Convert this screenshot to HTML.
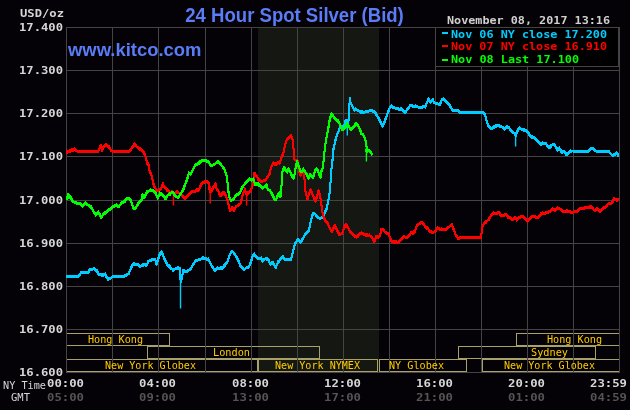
<!DOCTYPE html><html><head><meta charset="utf-8"><title>24 Hour Spot Silver (Bid)</title><style>html,body{margin:0;padding:0;background:#040206;}svg{display:block}</style></head><body>
<svg width="630" height="410" viewBox="0 0 630 410">
<rect x="0" y="0" width="630" height="410" fill="#040206"/>
<rect x="258" y="28" width="121" height="344" fill="#151713"/>
<g clip-path="url(#cc)"><clipPath id="cc"><rect x="66" y="27" width="554" height="346"/></clipPath>
<g fill="none" stroke="#a8a268" stroke-width="1" shape-rendering="crispEdges"><rect x="60.5" y="333.5" width="109" height="12"/><rect x="147.5" y="346.5" width="172" height="12"/><rect x="40.5" y="359.5" width="217" height="12"/><rect x="258.5" y="359.5" width="119" height="12"/><rect x="379.5" y="359.5" width="87" height="12"/><rect x="458.5" y="346.5" width="137" height="12"/><rect x="516.5" y="333.5" width="124" height="12"/><rect x="482.5" y="359.5" width="158" height="12"/></g>
</g>
<g fill="#444444"><rect x="66" y="27" width="1" height="346"/><rect x="112" y="27" width="1" height="346"/><rect x="158" y="27" width="1" height="346"/><rect x="205" y="27" width="1" height="346"/><rect x="251" y="27" width="1" height="346"/><rect x="297" y="27" width="1" height="346"/><rect x="343" y="27" width="1" height="346"/><rect x="389" y="27" width="1" height="346"/><rect x="435" y="27" width="1" height="346"/><rect x="481" y="27" width="1" height="346"/><rect x="527" y="27" width="1" height="346"/><rect x="573" y="27" width="1" height="346"/><rect x="619" y="27" width="1" height="346"/><rect x="66" y="27" width="554" height="1"/><rect x="66" y="70" width="554" height="1"/><rect x="66" y="113" width="554" height="1"/><rect x="66" y="156" width="554" height="1"/><rect x="66" y="200" width="554" height="1"/><rect x="66" y="243" width="554" height="1"/><rect x="66" y="286" width="554" height="1"/><rect x="66" y="329" width="554" height="1"/><rect x="66" y="372" width="554" height="1"/></g>
<g style="font-family:'DejaVu Sans Mono','Liberation Mono',monospace;font-size:11px" fill="#ffcc00"><text x="88" y="343" textLength="55" lengthAdjust="spacingAndGlyphs">Hong Kong</text><text x="213" y="356" textLength="37" lengthAdjust="spacingAndGlyphs">London</text><text x="105" y="369" textLength="91" lengthAdjust="spacingAndGlyphs">New York Globex</text><text x="275" y="369" textLength="85" lengthAdjust="spacingAndGlyphs">New York NYMEX</text><text x="389" y="369" textLength="55" lengthAdjust="spacingAndGlyphs">NY Globex</text><text x="547" y="343" textLength="55" lengthAdjust="spacingAndGlyphs">Hong Kong</text><text x="531" y="356" textLength="37" lengthAdjust="spacingAndGlyphs">Sydney</text><text x="504" y="369" textLength="91" lengthAdjust="spacingAndGlyphs">New York Globex</text></g>
<polyline points="66.4,276.4 67.9,276.4 69.4,276.4 70.9,276.4 72.5,276.4 74.0,276.4 75.5,276.4 77.0,276.4 78.5,275.0 79.3,276.5 80.2,274.9 81.0,271.7 82.8,272.6 84.5,272.4 86.2,273.2 88.0,273.7 89.0,269.6 90.0,267.9 92.2,270.5 94.4,268.5 95.7,270.9 97.0,269.1 97.9,272.7 98.8,275.6 100.4,273.8 102.0,276.5 103.6,276.3 105.2,273.0 106.0,274.4 106.9,277.8 107.7,280.7 110.3,278.1 111.5,276.4 112.8,276.1 115.3,276.7 117.0,276.6 118.7,276.5 120.4,276.4 122.1,276.2 123.8,276.1 125.5,274.2 127.1,273.7 128.7,273.3 129.3,272.0 130.0,269.5 130.6,268.0 131.4,266.3 132.2,265.6 133.0,263.4 134.7,262.5 136.3,265.7 138.0,264.8 140.0,267.2 141.3,264.6 142.5,266.8 143.8,265.5 145.1,263.6 146.3,265.4 147.0,265.4 147.6,263.9 148.3,263.3 150.2,260.0 151.9,261.1 153.5,260.1 155.2,258.3 155.6,261.0 156.1,263.9 156.5,265.4 157.2,262.2 157.8,260.6 158.3,257.0 158.8,256.3 159.3,256.9 159.8,253.9 160.3,251.5 161.6,252.2 162.2,254.3 162.9,255.7 163.5,256.0 164.1,257.8 164.8,259.5 165.4,262.1 166.4,263.0 167.3,264.4 168.4,265.8 169.4,265.1 170.5,266.3 171.8,269.7 173.0,271.6 174.7,269.6 176.4,268.2 178.1,266.7 180.0,268.6 180.1,272.1 180.2,273.0 180.2,273.8 180.3,276.7 180.4,276.0 180.4,278.7 180.5,282.0 180.6,282.3 181.5,279.8 181.8,277.5 182.1,277.0 182.3,277.0 182.6,271.8 182.9,273.2 183.2,271.7 185.1,272.6 187.0,272.6 188.3,271.8 189.5,269.7 190.8,268.8 191.6,266.8 192.5,263.9 193.3,265.5 194.2,263.1 195.0,260.4 195.9,260.3 197.8,259.9 199.7,259.2 201.3,258.2 202.9,257.9 204.3,258.7 205.8,259.2 207.2,259.1 208.6,257.9 209.4,260.4 210.3,261.9 211.1,265.1 212.1,267.6 213.0,268.8 213.9,270.2 214.9,271.7 216.2,268.3 217.5,269.3 219.4,268.7 221.2,266.5 223.1,266.3 224.1,264.7 225.0,265.9 226.2,262.3 227.5,260.2 228.0,260.7 228.5,258.1 229.1,255.5 229.6,254.3 230.1,254.2 231.1,251.3 232.0,250.1 233.9,253.7 234.7,254.0 235.6,254.8 236.4,256.6 237.4,256.8 238.3,260.1 238.9,261.9 239.6,262.7 240.2,264.1 242.1,269.0 243.1,268.8 244.0,268.9 245.9,268.5 247.5,268.7 249.1,265.0 249.7,263.3 250.4,262.1 251.0,262.5 251.5,258.8 251.9,259.3 252.4,257.7 252.9,255.6 254.2,253.0 255.2,257.2 256.1,257.8 257.4,257.7 258.6,257.5 261.2,258.5 261.8,259.1 262.4,261.4 264.0,259.2 265.6,259.1 267.2,257.9 268.8,259.7 269.5,263.9 270.1,265.1 272.6,261.7 273.4,265.0 274.2,264.2 275.0,267.9 275.8,268.4 276.4,265.6 277.0,263.4 278.0,260.8 279.0,262.5 280.3,257.9 281.5,259.4 282.8,258.5 283.8,258.5 284.7,258.6 287.2,260.6 289.1,261.0 291.0,260.0 291.5,257.5 291.9,255.2 292.4,253.4 292.9,251.1 293.3,251.2 293.7,248.7 294.0,246.1 294.4,244.1 294.8,244.6 295.8,241.7 296.9,240.9 297.9,238.6 299.4,242.2 300.8,243.7 301.8,238.7 302.7,237.8 303.7,236.6 304.5,237.6 305.3,235.3 306.5,232.4 307.8,230.6 309.0,231.2 309.3,230.2 309.6,229.0 309.9,225.2 310.3,225.7 310.6,223.4 310.9,221.0 311.2,221.3 311.7,216.8 312.1,217.0 312.6,212.8 314.8,212.4 315.9,216.7 317.0,215.5 318.5,218.7 320.0,219.2 322.2,218.6 323.3,215.0 324.4,213.1 325.1,211.2 325.9,211.7 326.6,209.0 327.0,208.7 327.3,206.9 327.6,202.4 328.0,202.4 328.4,199.1 328.7,197.2 328.9,195.7 329.2,197.0 329.4,195.0 329.7,193.4 329.9,189.9 330.2,189.2 330.3,188.3 330.3,185.3 330.4,184.5 330.5,181.6 330.6,179.6 330.6,178.7 330.7,179.6 330.8,176.8 330.9,176.7 330.9,173.4 331.0,171.2 331.2,171.4 331.4,169.8 331.7,165.0 331.9,165.8 332.1,161.9 332.3,160.3 332.5,161.6 332.7,156.7 332.9,155.7 333.0,156.9 333.1,153.0 333.2,150.2 333.3,148.7 333.6,147.5 334.0,147.9 334.3,143.9 334.6,145.4 335.0,141.9 335.3,142.6 335.8,140.8 336.2,136.8 336.7,135.1 337.2,134.3 337.9,131.3 338.5,131.8 339.1,127.9 339.8,126.2 342.3,128.6 344.2,125.4 344.6,124.7 345.1,122.2 345.5,119.8 346.8,120.0 347.4,125.6 347.8,124.2 348.3,122.6 348.7,117.7 348.8,116.4 348.9,116.2 349.0,115.9 349.1,112.6 349.2,111.4 349.3,109.6 349.4,106.6 349.4,106.1 349.5,103.7 349.5,101.9 349.6,99.8 349.6,99.0 349.7,100.1 350.1,100.3 350.6,103.3 351.6,105.1 352.5,108.2 353.4,108.0 354.4,109.6 355.7,108.3 357.6,109.6 360.1,112.9 362.0,113.4 363.9,111.5 365.8,111.3 367.7,111.8 370.3,110.6 372.8,111.4 374.1,111.0 375.3,111.1 376.2,113.4 377.0,114.2 377.9,117.5 378.7,117.1 379.6,118.6 380.4,122.2 381.0,122.4 381.7,125.8 382.3,126.2 383.2,126.0 384.2,121.7 384.7,121.5 385.2,121.1 385.8,116.8 386.3,118.6 386.8,114.2 387.4,114.8 388.1,114.0 388.7,111.8 389.3,108.3 390.2,106.0 391.2,106.0 392.8,108.4 394.4,107.0 396.3,109.9 398.2,107.6 399.7,110.6 401.2,107.2 403.1,110.2 405.0,114.0 406.2,111.9 407.5,110.5 408.6,109.0 409.6,107.3 410.7,105.8 412.3,104.8 413.9,106.7 415.8,104.5 417.7,107.6 419.6,108.3 421.5,106.3 423.4,105.2 425.3,108.2 425.9,106.1 426.6,103.7 427.2,102.2 427.9,101.7 428.5,98.6 429.4,100.0 430.4,101.4 431.6,100.1 432.9,98.3 434.2,103.2 435.8,102.9 437.4,104.2 439.9,102.8 440.5,102.5 441.2,100.2 441.8,98.7 443.1,97.9 445.0,101.3 445.9,101.0 446.9,102.2 448.8,104.3 449.6,104.4 450.5,105.0 451.3,108.4 452.6,110.2 454.3,110.8 456.0,110.0 457.7,110.9 459.6,112.4 461.2,112.4 462.8,112.4 464.3,112.4 465.9,112.4 467.5,112.4 469.1,112.4 470.7,112.4 472.2,112.3 473.8,112.3 475.4,112.3 477.0,112.3 478.6,112.3 480.1,112.3 481.7,112.3 483.3,113.2 484.2,112.8 485.2,115.2 485.6,116.8 486.0,117.6 486.4,120.0 487.0,122.2 487.7,125.2 488.3,127.0 489.6,126.1 490.9,129.2 493.4,126.2 495.3,124.8 497.9,125.4 499.8,127.5 501.7,125.4 503.2,129.0 504.8,130.7 505.8,127.2 506.7,127.4 508.7,128.6 509.6,128.4 510.6,131.3 511.9,132.3 513.1,132.8 515.0,135.1 515.6,137.5 516.3,136.0 516.9,132.9 517.6,129.7 518.2,128.3 519.4,126.8 520.7,129.1 522.0,130.8 524.2,128.4 526.4,131.2 527.3,132.6 528.3,132.4 529.2,134.3 530.0,134.3 530.9,137.7 532.8,135.7 534.7,139.9 536.0,140.5 537.2,141.1 538.5,140.8 539.7,144.3 541.0,145.5 542.6,142.1 544.2,144.2 546.1,145.1 547.0,145.7 547.8,147.1 548.7,147.4 550.0,148.3 551.2,147.5 553.2,143.6 554.5,146.5 555.7,146.3 556.7,147.2 557.6,149.7 559.5,147.1 560.4,151.3 561.2,152.8 562.1,150.9 564.0,151.4 564.8,151.9 565.7,152.1 566.5,154.0 567.8,152.6 569.0,153.2 570.6,149.8 572.2,151.0 573.8,151.0 575.4,151.1 577.0,151.1 578.6,151.2 580.2,151.2 581.7,151.2 583.3,151.3 584.9,151.3 586.5,151.4 588.1,150.2 589.4,150.0 590.6,147.3 593.2,148.7 594.5,150.0 595.7,151.0 597.3,151.0 598.9,151.1 600.5,151.1 602.0,151.2 603.6,151.2 605.2,151.2 606.8,151.3 608.4,152.6 609.7,151.5 610.9,153.1 612.2,155.4 614.8,153.9 616.7,153.2 617.7,153.6 618.6,156.1" fill="none" stroke="#00ccff" stroke-width="1.2" stroke-linejoin="round" shape-rendering="crispEdges"/>
<polyline points="66.4,275.9 78.5,275.9 81.0,272.1 88.0,272.1 90.0,269.2 94.4,268.3 97.0,270.5 98.8,274.3 105.2,274.3 107.7,278.5 110.3,278.1 112.8,275.9 115.3,276.2 125.5,275.5 128.7,273.0 130.6,268.5 133.0,263.7 138.0,264.1 140.0,266.2 143.8,263.6 146.3,265.5 148.3,261.1 150.2,259.8 155.2,258.5 156.5,263.6 157.8,259.8 160.3,252.2 161.6,251.5 163.5,256.0 165.4,260.5 167.3,264.3 170.5,267.5 173.0,269.3 178.1,267.5 180.0,268.1 180.6,281.5 181.5,279.5 183.2,270.0 187.0,271.2 190.8,268.1 193.3,263.6 195.9,259.8 199.7,259.2 202.9,257.3 208.6,259.2 211.1,264.3 214.9,270.0 217.5,267.5 223.1,267.6 225.0,264.4 227.5,261.2 230.1,253.6 232.0,250.5 233.9,252.4 236.4,256.2 238.3,260.0 240.2,265.1 242.1,267.0 244.0,269.5 245.9,267.6 249.1,266.3 251.0,261.2 252.9,254.9 254.2,253.6 256.1,256.2 258.6,258.1 261.2,257.4 262.4,260.6 265.6,258.1 268.8,260.0 270.1,263.2 272.6,261.9 275.8,267.0 277.0,263.8 279.0,260.6 282.8,256.2 284.7,259.3 287.2,258.7 291.0,258.7 292.9,251.7 294.8,243.5 297.9,238.8 300.8,241.7 303.7,236.8 305.3,233.7 309.0,230.0 311.2,219.0 312.6,213.9 314.8,213.2 317.0,216.1 320.0,218.3 322.2,216.8 324.4,213.2 326.6,208.1 328.7,198.5 330.2,188.3 331.0,171.5 331.9,164.7 332.9,156.2 333.3,149.5 335.3,140.3 337.2,133.9 339.8,127.6 342.3,126.3 344.2,125.7 345.5,120.0 346.8,121.2 347.4,123.5 348.7,118.7 349.3,108.5 349.7,97.8 350.6,102.2 352.5,106.0 354.4,109.8 355.7,108.5 357.6,109.8 360.1,111.1 363.9,111.7 367.7,111.1 370.3,109.8 372.8,110.5 375.3,112.4 377.9,116.8 380.4,121.2 382.3,125.7 384.2,122.5 386.8,114.9 389.3,108.5 391.2,105.4 394.4,107.3 398.2,108.5 401.2,108.5 403.1,110.4 405.0,112.0 407.5,108.5 410.7,104.6 413.9,106.5 415.8,105.3 419.6,107.2 425.3,105.9 427.2,101.5 428.5,98.3 430.4,101.5 432.9,99.6 434.2,102.1 437.4,103.4 439.9,104.0 441.8,99.6 443.1,98.3 445.0,99.6 446.9,102.1 448.8,103.4 451.3,107.8 452.6,109.7 457.7,109.7 459.6,111.9 483.3,111.8 485.2,114.7 486.4,119.8 488.3,124.9 490.9,128.1 493.4,127.4 495.3,125.9 497.9,124.9 501.7,126.2 504.8,128.7 506.7,126.2 508.7,126.8 510.6,130.0 513.1,131.9 515.0,133.2 515.6,135.5 516.3,133.8 518.2,128.7 519.4,127.4 522.0,129.3 526.4,130.0 528.3,132.5 530.9,136.3 534.7,137.6 537.2,140.1 541.0,143.3 544.2,142.7 546.1,143.3 548.7,147.1 551.2,145.2 553.2,143.5 555.7,146.1 557.6,149.9 559.5,148.0 562.1,151.8 564.0,150.5 566.5,154.3 569.0,151.8 572.2,150.5 588.1,150.9 590.6,148.6 593.2,147.7 595.7,150.5 608.4,150.8 612.2,154.7 614.8,154.3 616.7,152.4 618.6,155.6" fill="none" stroke="#00ccff" stroke-width="2.0" stroke-linejoin="round" stroke-linecap="butt" shape-rendering="crispEdges"/><polyline points="66.4,276.9 78.5,276.9 81.0,273.1 88.0,273.1 90.0,270.2 94.4,269.3 97.0,271.5 98.8,275.3 105.2,275.3 107.7,279.5 110.3,279.1 112.8,276.9 115.3,277.2 125.5,276.5 128.7,274.0 130.6,269.5 133.0,264.7 138.0,265.1 140.0,267.2 143.8,264.6 146.3,266.5 148.3,262.1 150.2,260.8 155.2,259.5 156.5,264.6 157.8,260.8 160.3,253.2 161.6,252.5 163.5,257.0 165.4,261.5 167.3,265.3 170.5,268.5 173.0,270.3 178.1,268.5 180.0,269.1 180.6,282.5 181.5,280.5 183.2,271.0 187.0,272.2 190.8,269.1 193.3,264.6 195.9,260.8 199.7,260.2 202.9,258.3 208.6,260.2 211.1,265.3 214.9,271.0 217.5,268.5 223.1,268.6 225.0,265.4 227.5,262.2 230.1,254.6 232.0,251.5 233.9,253.4 236.4,257.2 238.3,261.0 240.2,266.1 242.1,268.0 244.0,270.5 245.9,268.6 249.1,267.3 251.0,262.2 252.9,255.9 254.2,254.6 256.1,257.2 258.6,259.1 261.2,258.4 262.4,261.6 265.6,259.1 268.8,261.0 270.1,264.2 272.6,262.9 275.8,268.0 277.0,264.8 279.0,261.6 282.8,257.2 284.7,260.3 287.2,259.7 291.0,259.7 292.9,252.7 294.8,244.5 297.9,239.8 300.8,242.7 303.7,237.8 305.3,234.7 309.0,231.0 311.2,220.0 312.6,214.9 314.8,214.2 317.0,217.1 320.0,219.3 322.2,217.8 324.4,214.2 326.6,209.1 328.7,199.5 330.2,189.3 331.0,172.5 331.9,165.7 332.9,157.2 333.3,150.5 335.3,141.3 337.2,134.9 339.8,128.6 342.3,127.3 344.2,126.7 345.5,121.0 346.8,122.2 347.4,124.5 348.7,119.7 349.3,109.5 349.7,98.8 350.6,103.2 352.5,107.0 354.4,110.8 355.7,109.5 357.6,110.8 360.1,112.1 363.9,112.7 367.7,112.1 370.3,110.8 372.8,111.5 375.3,113.4 377.9,117.8 380.4,122.2 382.3,126.7 384.2,123.5 386.8,115.9 389.3,109.5 391.2,106.4 394.4,108.3 398.2,109.5 401.2,109.5 403.1,111.4 405.0,113.0 407.5,109.5 410.7,105.6 413.9,107.5 415.8,106.3 419.6,108.2 425.3,106.9 427.2,102.5 428.5,99.3 430.4,102.5 432.9,100.6 434.2,103.1 437.4,104.4 439.9,105.0 441.8,100.6 443.1,99.3 445.0,100.6 446.9,103.1 448.8,104.4 451.3,108.8 452.6,110.7 457.7,110.7 459.6,112.9 483.3,112.8 485.2,115.7 486.4,120.8 488.3,125.9 490.9,129.1 493.4,128.4 495.3,126.9 497.9,125.9 501.7,127.2 504.8,129.7 506.7,127.2 508.7,127.8 510.6,131.0 513.1,132.9 515.0,134.2 515.6,136.5 516.3,134.8 518.2,129.7 519.4,128.4 522.0,130.3 526.4,131.0 528.3,133.5 530.9,137.3 534.7,138.6 537.2,141.1 541.0,144.3 544.2,143.7 546.1,144.3 548.7,148.1 551.2,146.2 553.2,144.5 555.7,147.1 557.6,150.9 559.5,149.0 562.1,152.8 564.0,151.5 566.5,155.3 569.0,152.8 572.2,151.5 588.1,151.9 590.6,149.6 593.2,148.7 595.7,151.5 608.4,151.8 612.2,155.7 614.8,155.3 616.7,153.4 618.6,156.6" fill="none" stroke="#00ccff" stroke-width="2.0" stroke-linejoin="round" stroke-linecap="butt" shape-rendering="crispEdges"/>
<rect x="179.8" y="280.0" width="1.4" height="28.5" fill="#00ccff"/><rect x="514.9" y="134.0" width="1.4" height="12.5" fill="#00ccff"/><rect x="346.6" y="122.0" width="1.4" height="13.5" fill="#00ccff"/>
<polyline points="66.4,153.2 67.9,153.1 69.4,149.6 70.9,149.6 71.9,150.3 73.2,151.8 74.7,149.6 76.6,150.2 77.9,151.5 79.5,151.5 81.0,151.5 82.6,151.5 84.1,151.5 85.7,151.5 87.3,151.5 88.8,151.5 90.4,151.5 92.0,151.5 93.5,151.5 95.1,151.5 96.6,151.5 98.2,151.9 98.8,150.3 99.5,148.6 100.1,145.4 100.7,144.8 101.1,146.2 101.6,148.9 102.0,151.5 103.0,149.7 103.9,146.6 105.8,144.1 107.7,144.9 108.7,145.3 109.6,146.5 110.5,149.5 111.5,150.2 112.8,151.5 114.4,151.5 116.0,151.5 117.6,151.5 119.2,151.5 120.8,151.5 122.3,151.5 123.9,151.5 125.5,151.5 127.1,151.5 128.7,151.0 129.9,151.7 131.2,149.1 132.1,147.9 133.1,145.4 134.1,143.3 135.0,143.2 135.9,144.1 136.9,147.0 139.5,150.2 140.8,150.3 142.0,149.7 143.2,152.8 144.1,154.3 145.1,156.0 145.5,158.2 145.9,159.1 146.2,160.8 146.6,160.6 147.0,164.5 148.3,165.8 148.6,164.3 148.9,168.1 149.2,169.5 149.5,170.2 150.1,172.1 150.8,173.7 151.4,177.0 151.8,177.1 152.3,180.1 152.7,179.9 153.1,183.9 153.6,185.8 154.0,186.1 154.8,187.7 155.7,190.3 156.5,190.9 158.1,190.1 159.7,189.3 160.6,188.3 161.6,188.3 162.2,184.3 162.9,185.3 163.5,184.4 164.1,188.4 166.0,187.4 166.9,191.1 167.9,191.4 169.2,191.9 170.5,193.3 172.4,191.9 173.7,194.3 174.9,192.5 176.8,190.2 178.1,192.5 180.6,195.4 181.9,195.9 183.2,195.4 185.1,199.5 186.3,197.9 187.6,197.2 188.9,193.3 190.2,194.1 192.1,190.2 194.6,192.5 196.5,189.1 199.0,189.0 199.7,189.7 200.3,185.1 201.0,185.0 202.2,185.0 203.5,181.4 205.1,180.6 206.7,182.5 208.6,182.7 208.8,185.3 209.0,184.2 209.2,187.0 209.5,187.8 209.7,191.2 209.9,190.4 211.7,192.3 212.7,186.9 213.7,187.7 214.6,183.4 215.6,182.8 215.8,186.5 216.1,185.5 216.3,187.2 218.2,191.0 218.7,191.3 219.1,191.4 219.6,196.4 220.1,194.7 222.0,192.3 223.9,191.6 224.9,194.2 225.8,196.3 226.4,195.6 227.1,198.2 227.7,198.7 228.0,201.9 228.3,204.7 228.7,206.1 229.0,208.3 229.6,209.7 230.2,212.0 231.1,209.8 232.1,207.4 233.1,208.0 234.0,211.2 235.0,208.0 236.0,205.3 237.2,205.7 238.5,206.3 240.4,202.3 240.8,202.5 241.3,200.3 241.7,199.3 242.1,196.3 242.4,197.8 242.8,193.6 243.2,193.3 244.0,191.0 244.8,187.9 245.3,191.4 245.8,191.2 246.3,192.3 246.7,193.6 248.0,191.6 250.6,190.1 251.1,190.5 251.6,188.4 252.0,188.6 252.5,186.8 252.7,185.6 253.0,181.1 253.2,180.4 253.5,178.2 253.7,177.9 254.1,175.9 254.4,174.3 255.6,175.5 256.9,175.4 257.5,177.5 258.2,179.4 258.8,178.9 260.4,179.3 262.0,181.1 263.6,179.3 265.2,181.1 266.4,177.6 267.7,175.5 268.6,174.2 269.6,172.8 270.0,170.9 270.5,170.1 270.9,168.1 271.5,166.1 272.1,165.9 272.8,162.8 273.4,164.0 274.7,165.2 276.0,165.3 277.9,162.2 279.8,163.1 280.3,161.8 280.8,158.2 281.2,158.0 281.7,156.8 282.3,154.0 283.0,152.2 283.6,153.5 283.9,150.2 284.2,149.2 284.5,149.2 284.8,146.4 285.3,143.8 285.8,144.9 286.2,141.2 286.7,138.4 287.7,139.7 288.7,136.2 289.8,135.7 290.9,136.5 291.7,137.8 292.5,137.2 292.7,140.4 292.8,141.9 293.0,143.8 293.2,144.4 293.4,147.5 293.5,147.2 293.7,149.6 293.8,151.4 294.0,155.1 294.1,153.3 294.2,157.4 294.4,156.8 294.5,159.8 296.2,160.6 297.6,160.4 297.8,163.0 298.0,163.1 298.2,163.6 298.4,165.1 298.6,166.5 299.1,171.6 299.5,172.9 300.5,176.9 301.9,173.6 303.3,170.6 304.3,175.4 304.4,177.5 304.5,178.9 304.5,179.7 304.6,180.8 304.7,182.8 304.8,185.7 304.8,185.4 304.9,188.0 305.0,189.4 305.4,192.8 305.8,193.8 306.2,195.9 306.7,197.1 307.1,196.6 307.5,198.0 308.0,197.4 308.5,194.9 308.9,194.0 309.4,193.3 309.9,192.7 310.4,189.8 311.1,192.4 311.9,191.4 312.6,194.1 313.4,198.1 314.1,196.6 314.9,199.2 315.6,199.6 316.0,198.2 316.4,199.8 316.8,198.7 317.3,195.9 317.7,192.5 318.1,191.7 318.5,190.0 319.2,193.4 320.0,195.3 320.2,196.1 320.5,198.1 320.7,198.3 320.9,201.6 321.2,204.9 321.4,205.9 321.6,205.1 321.9,208.4 322.1,210.8 322.4,210.8 322.6,214.9 322.9,215.0 323.6,217.6 324.4,218.2 325.1,222.2 326.2,222.5 327.3,222.8 328.0,222.9 328.8,225.7 329.5,225.8 330.2,229.4 331.0,232.0 331.7,230.8 332.4,230.4 333.1,228.6 333.9,226.7 334.6,226.2 335.3,228.5 336.1,229.1 336.8,229.7 337.7,233.2 338.5,232.5 339.4,235.7 342.0,234.2 342.6,232.9 343.3,231.5 343.9,227.5 344.5,227.5 345.2,225.1 345.8,224.6 346.8,227.4 347.7,227.7 348.5,226.8 349.4,230.1 350.2,232.5 351.8,234.7 353.4,235.4 355.0,237.3 356.6,235.6 357.9,237.5 359.1,235.1 361.7,233.3 364.2,235.7 366.7,236.3 369.3,234.0 370.6,237.6 371.8,238.4 372.7,237.7 373.5,241.3 374.4,242.1 374.9,239.2 375.4,240.1 375.8,236.1 376.3,236.5 378.2,237.2 380.1,234.6 380.4,234.2 380.7,232.2 381.0,229.6 381.3,230.9 383.3,228.2 384.2,229.2 385.2,232.2 386.8,234.2 388.3,234.2 388.9,236.0 389.6,236.5 390.2,238.7 390.9,239.0 391.5,240.3 393.1,241.9 394.7,240.7 396.6,240.9 398.5,243.5 399.4,240.0 400.4,240.9 401.5,239.9 402.5,237.4 403.6,237.4 405.1,238.1 406.7,238.8 408.7,234.7 409.5,233.6 410.4,233.1 411.2,232.2 413.2,232.8 414.1,230.4 415.1,231.2 415.6,231.3 416.1,227.6 416.5,226.9 417.0,224.9 418.9,223.8 420.1,224.5 421.4,221.4 423.3,224.6 424.2,225.2 425.2,226.7 427.1,229.5 428.4,227.8 429.7,232.2 432.2,231.6 433.8,232.6 435.4,232.8 436.4,230.4 437.3,227.5 439.8,230.4 441.4,227.6 443.0,229.6 444.6,228.7 446.2,229.2 447.8,229.2 449.4,227.7 450.6,226.1 451.9,224.0 452.5,225.4 453.2,227.9 453.8,228.8 454.4,230.6 455.1,234.9 455.7,233.3 456.6,237.3 457.4,236.9 458.3,238.2 460.8,237.4 462.4,237.4 463.9,237.4 465.5,237.4 467.0,237.4 468.6,237.4 470.2,237.4 471.7,237.4 473.3,237.4 474.9,237.4 476.4,237.4 478.0,237.4 479.5,237.4 481.1,236.7 481.3,234.3 481.5,234.2 481.7,231.5 481.8,231.0 482.0,228.9 482.2,229.6 482.4,228.2 483.4,224.5 484.3,223.3 486.2,223.1 487.4,219.9 488.7,218.1 489.7,216.8 490.7,214.8 492.0,215.1 493.3,212.4 495.2,212.7 497.1,214.6 499.0,211.2 499.9,215.0 500.9,215.9 503.4,215.6 505.3,215.3 506.6,214.8 507.9,218.1 509.8,218.9 511.0,218.6 512.3,220.5 513.5,220.3 514.8,218.2 515.8,219.5 516.7,221.2 518.0,220.2 519.3,218.3 521.8,217.8 523.7,215.9 524.7,218.4 525.6,219.8 527.5,220.6 528.5,219.5 529.4,217.4 530.7,219.4 532.0,216.1 533.6,216.6 535.2,218.2 537.1,216.7 538.4,218.7 539.6,214.6 540.9,212.7 542.1,212.3 544.7,213.0 546.6,213.8 548.2,213.4 549.8,212.6 551.1,209.9 552.5,208.8 553.8,208.5 555.1,211.8 556.4,208.8 557.6,207.1 560.2,209.7 561.5,208.8 562.7,210.4 564.6,212.7 566.5,209.6 568.1,210.0 569.7,210.6 572.2,212.1 574.8,211.4 577.3,210.2 578.5,209.3 579.8,207.6 581.4,207.6 583.0,209.0 584.6,207.3 586.2,206.8 588.1,208.3 590.0,205.6 591.9,205.9 593.1,210.2 594.4,210.2 595.7,210.8 597.0,207.6 598.6,210.3 600.2,212.8 601.5,209.4 602.7,209.6 604.3,208.1 605.9,206.3 607.1,207.0 608.4,203.1 610.3,203.1 612.2,203.4 612.8,200.7 613.5,201.2 614.1,198.8 616.0,200.0 617.3,201.1 618.6,199.0" fill="none" stroke="#ff0000" stroke-width="1.2" stroke-linejoin="round" shape-rendering="crispEdges"/>
<polyline points="66.4,151.0 70.9,150.7 71.9,148.5 73.2,150.4 74.7,148.5 76.6,150.4 77.9,151.0 98.2,151.0 99.5,147.8 100.7,144.6 102.0,149.1 103.9,145.9 105.8,143.8 107.7,145.3 109.6,147.8 111.5,150.4 112.8,151.0 128.7,151.0 131.2,148.5 133.1,145.9 135.0,143.4 136.9,146.5 139.5,147.8 142.0,150.4 143.2,150.8 145.1,154.6 147.0,162.2 148.3,163.5 149.5,169.8 151.4,174.9 152.7,180.0 154.0,185.7 156.5,189.5 159.7,189.9 161.6,187.0 162.9,183.2 164.1,186.3 166.0,187.6 167.9,190.1 170.5,192.7 172.4,190.8 173.7,193.5 174.9,192.7 176.8,190.8 178.1,192.0 180.6,193.3 183.2,196.5 185.1,197.8 187.6,195.2 190.2,192.7 192.1,191.4 194.6,191.4 196.5,189.5 199.0,189.5 201.0,184.4 203.5,181.9 206.7,180.6 208.6,182.5 209.9,191.5 211.7,190.1 213.7,186.3 215.6,183.2 216.3,187.9 218.2,189.8 220.1,195.5 222.0,193.6 223.9,191.7 225.8,194.9 227.7,200.0 229.0,206.3 230.2,210.1 232.1,207.0 234.0,210.1 236.0,206.3 238.5,204.4 240.4,203.2 241.7,198.7 243.2,192.4 244.8,189.2 246.3,193.5 246.7,194.9 248.0,192.4 250.6,191.1 252.5,184.7 253.7,177.1 254.4,172.7 256.9,175.8 258.8,180.3 262.0,180.9 265.2,179.7 267.7,176.5 269.6,173.3 270.9,167.7 273.4,162.0 276.0,163.9 277.9,162.0 279.8,162.6 281.7,156.2 283.6,151.8 284.8,145.5 286.7,139.7 288.7,137.2 290.9,134.7 292.5,138.5 293.7,149.9 294.5,159.0 296.2,160.5 297.6,160.0 298.6,167.6 299.5,171.9 300.5,174.7 301.9,172.4 303.3,171.9 304.3,174.3 305.0,189.0 307.5,198.5 310.4,189.0 312.6,194.1 315.6,200.7 318.5,190.5 320.0,194.1 321.4,204.4 322.9,214.6 325.1,219.8 327.3,222.0 329.5,227.1 331.7,231.5 334.6,224.9 336.8,229.3 339.4,234.3 342.0,233.1 343.9,228.0 345.8,223.5 347.7,226.7 350.2,231.2 353.4,234.3 356.6,236.9 359.1,233.7 361.7,232.4 364.2,233.7 366.7,234.3 369.3,235.0 371.8,236.9 374.4,241.3 376.3,235.6 378.2,236.9 380.1,235.0 381.3,228.6 383.3,229.3 385.2,231.8 388.3,233.1 390.2,237.5 391.5,240.7 394.7,242.0 398.5,242.0 400.4,239.4 403.6,236.2 406.7,236.9 408.7,235.6 411.2,231.8 413.2,233.1 415.1,230.5 417.0,224.8 418.9,223.5 421.4,221.6 423.3,223.5 425.2,226.1 427.1,227.4 429.7,230.5 432.2,231.8 435.4,231.2 437.3,227.4 439.8,228.6 446.2,228.6 449.4,226.1 451.9,224.2 453.8,229.3 455.7,234.3 458.3,238.2 460.8,236.9 481.1,236.9 482.4,226.1 484.3,222.3 486.2,221.0 488.7,219.1 490.7,215.5 493.3,212.4 497.1,213.0 499.0,211.7 500.9,214.9 503.4,215.5 505.3,213.6 507.9,216.2 509.8,216.8 512.3,219.3 514.8,216.8 516.7,219.3 519.3,216.8 521.8,215.5 523.7,216.2 525.6,218.7 527.5,220.6 529.4,218.1 532.0,216.2 535.2,216.2 537.1,217.4 539.6,215.5 542.1,212.4 544.7,213.0 546.6,211.7 549.8,211.1 552.5,208.1 555.1,210.0 557.6,207.4 560.2,208.7 562.7,210.6 566.5,210.6 569.7,211.2 572.2,212.5 574.8,211.2 577.3,210.6 579.8,208.1 583.0,208.1 586.2,206.8 591.9,206.8 594.4,210.0 597.0,208.5 600.2,211.0 602.7,208.1 605.9,206.2 608.4,203.0 612.2,202.4 614.1,197.9 616.0,199.2 617.3,200.5 618.6,198.5" fill="none" stroke="#ff0000" stroke-width="2.0" stroke-linejoin="round" stroke-linecap="butt" shape-rendering="crispEdges"/><polyline points="66.4,152.0 70.9,151.7 71.9,149.5 73.2,151.4 74.7,149.5 76.6,151.4 77.9,152.0 98.2,152.0 99.5,148.8 100.7,145.6 102.0,150.1 103.9,146.9 105.8,144.8 107.7,146.3 109.6,148.8 111.5,151.4 112.8,152.0 128.7,152.0 131.2,149.5 133.1,146.9 135.0,144.4 136.9,147.5 139.5,148.8 142.0,151.4 143.2,151.8 145.1,155.6 147.0,163.2 148.3,164.5 149.5,170.8 151.4,175.9 152.7,181.0 154.0,186.7 156.5,190.5 159.7,190.9 161.6,188.0 162.9,184.2 164.1,187.3 166.0,188.6 167.9,191.1 170.5,193.7 172.4,191.8 173.7,194.5 174.9,193.7 176.8,191.8 178.1,193.0 180.6,194.3 183.2,197.5 185.1,198.8 187.6,196.2 190.2,193.7 192.1,192.4 194.6,192.4 196.5,190.5 199.0,190.5 201.0,185.4 203.5,182.9 206.7,181.6 208.6,183.5 209.9,192.5 211.7,191.1 213.7,187.3 215.6,184.2 216.3,188.9 218.2,190.8 220.1,196.5 222.0,194.6 223.9,192.7 225.8,195.9 227.7,201.0 229.0,207.3 230.2,211.1 232.1,208.0 234.0,211.1 236.0,207.3 238.5,205.4 240.4,204.2 241.7,199.7 243.2,193.4 244.8,190.2 246.3,194.5 246.7,195.9 248.0,193.4 250.6,192.1 252.5,185.7 253.7,178.1 254.4,173.7 256.9,176.8 258.8,181.3 262.0,181.9 265.2,180.7 267.7,177.5 269.6,174.3 270.9,168.7 273.4,163.0 276.0,164.9 277.9,163.0 279.8,163.6 281.7,157.2 283.6,152.8 284.8,146.5 286.7,140.7 288.7,138.2 290.9,135.7 292.5,139.5 293.7,150.9 294.5,160.0 296.2,161.5 297.6,161.0 298.6,168.6 299.5,172.9 300.5,175.7 301.9,173.4 303.3,172.9 304.3,175.3 305.0,190.0 307.5,199.5 310.4,190.0 312.6,195.1 315.6,201.7 318.5,191.5 320.0,195.1 321.4,205.4 322.9,215.6 325.1,220.8 327.3,223.0 329.5,228.1 331.7,232.5 334.6,225.9 336.8,230.3 339.4,235.3 342.0,234.1 343.9,229.0 345.8,224.5 347.7,227.7 350.2,232.2 353.4,235.3 356.6,237.9 359.1,234.7 361.7,233.4 364.2,234.7 366.7,235.3 369.3,236.0 371.8,237.9 374.4,242.3 376.3,236.6 378.2,237.9 380.1,236.0 381.3,229.6 383.3,230.3 385.2,232.8 388.3,234.1 390.2,238.5 391.5,241.7 394.7,243.0 398.5,243.0 400.4,240.4 403.6,237.2 406.7,237.9 408.7,236.6 411.2,232.8 413.2,234.1 415.1,231.5 417.0,225.8 418.9,224.5 421.4,222.6 423.3,224.5 425.2,227.1 427.1,228.4 429.7,231.5 432.2,232.8 435.4,232.2 437.3,228.4 439.8,229.6 446.2,229.6 449.4,227.1 451.9,225.2 453.8,230.3 455.7,235.3 458.3,239.2 460.8,237.9 481.1,237.9 482.4,227.1 484.3,223.3 486.2,222.0 488.7,220.1 490.7,216.5 493.3,213.4 497.1,214.0 499.0,212.7 500.9,215.9 503.4,216.5 505.3,214.6 507.9,217.2 509.8,217.8 512.3,220.3 514.8,217.8 516.7,220.3 519.3,217.8 521.8,216.5 523.7,217.2 525.6,219.7 527.5,221.6 529.4,219.1 532.0,217.2 535.2,217.2 537.1,218.4 539.6,216.5 542.1,213.4 544.7,214.0 546.6,212.7 549.8,212.1 552.5,209.1 555.1,211.0 557.6,208.4 560.2,209.7 562.7,211.6 566.5,211.6 569.7,212.2 572.2,213.5 574.8,212.2 577.3,211.6 579.8,209.1 583.0,209.1 586.2,207.8 591.9,207.8 594.4,211.0 597.0,209.5 600.2,212.0 602.7,209.1 605.9,207.2 608.4,204.0 612.2,203.4 614.1,198.9 616.0,200.2 617.3,201.5 618.6,199.5" fill="none" stroke="#ff0000" stroke-width="2.0" stroke-linejoin="round" stroke-linecap="butt" shape-rendering="crispEdges"/>
<rect x="172.8" y="192.0" width="1.4" height="13.5" fill="#ff0000"/><rect x="209.5" y="186.0" width="1.4" height="17.5" fill="#ff0000"/><rect x="245.9" y="192.0" width="1.4" height="13.5" fill="#ff0000"/>
<polyline points="66.8,198.1 67.3,197.6 67.8,195.3 68.3,194.5 68.7,196.1 69.0,195.5 70.9,196.1 71.8,201.1 72.8,200.8 74.7,201.3 76.3,204.7 77.9,203.2 80.4,205.1 81.3,205.0 82.3,206.9 83.4,203.9 84.4,204.6 85.5,204.4 86.8,204.0 88.0,205.8 89.6,206.8 91.2,205.7 92.2,210.0 93.1,210.9 94.0,211.3 94.8,211.8 95.7,216.4 97.0,213.3 98.2,212.6 99.0,214.7 99.8,215.5 100.6,217.8 101.4,217.2 102.2,217.2 103.1,214.4 103.9,214.8 105.5,213.9 107.1,210.3 108.3,209.2 109.6,208.2 110.9,210.1 112.2,207.2 114.1,206.6 116.6,204.1 118.5,206.8 119.6,205.1 120.6,203.7 121.7,203.3 124.2,202.0 125.5,202.0 126.7,199.9 128.0,199.5 129.3,200.2 130.6,201.7 131.1,201.9 131.6,201.5 132.1,205.6 132.7,207.5 133.2,208.8 133.7,209.0 135.7,208.8 136.5,205.4 137.4,206.3 138.2,203.9 139.5,201.5 140.7,199.4 142.0,201.1 142.2,199.9 142.3,194.6 142.5,195.5 143.4,195.7 144.4,196.3 145.1,195.4 145.7,195.8 146.3,194.7 147.0,190.2 148.6,191.6 150.2,188.7 152.7,191.4 153.9,190.9 155.2,193.9 155.8,195.8 156.5,195.4 157.2,198.7 157.8,197.6 158.4,195.2 159.1,195.7 159.7,192.0 162.2,193.3 163.3,195.6 164.3,197.8 165.4,197.6 166.2,195.9 167.1,197.8 167.9,194.4 169.2,195.9 170.5,194.7 173.0,192.0 173.9,193.6 174.7,195.1 175.6,196.8 178.1,198.0 178.9,196.6 179.8,195.5 180.6,195.5 181.5,192.6 182.3,191.0 183.2,190.8 183.7,187.6 184.1,186.4 184.6,187.5 185.1,184.4 185.7,183.0 186.4,179.4 187.0,179.5 187.5,178.4 187.9,174.5 188.4,175.1 188.9,173.4 190.8,172.4 191.6,172.9 192.5,170.6 193.3,169.7 194.2,166.8 195.0,166.5 195.9,164.9 198.4,162.2 199.7,161.1 200.9,162.1 202.2,162.0 204.1,159.6 206.0,160.6 208.6,162.5 209.4,162.7 210.3,164.1 211.1,165.2 213.0,164.5 214.9,164.4 216.6,161.8 218.2,160.7 219.4,163.8 220.7,162.6 221.8,165.9 222.8,167.8 223.9,167.5 224.5,168.7 225.2,172.5 225.8,171.9 226.4,173.3 226.6,175.8 226.8,178.4 227.1,177.7 227.3,180.2 227.5,181.8 227.7,185.3 227.9,185.4 228.0,188.5 228.2,187.5 228.3,189.7 228.5,192.5 228.7,195.0 228.8,194.9 229.0,195.7 229.9,197.2 230.9,200.6 233.4,198.0 234.3,199.1 235.1,198.0 236.0,194.2 238.5,193.3 239.4,194.0 240.4,192.1 241.0,191.3 241.7,188.0 242.3,185.7 243.6,184.8 244.8,185.1 246.1,181.8 247.4,180.8 248.7,179.8 249.9,178.6 251.8,179.9 253.1,180.5 253.7,179.3 254.4,180.4 255.0,185.7 257.5,184.7 258.8,186.5 260.1,185.7 261.4,188.6 262.6,189.4 265.2,185.4 266.4,185.5 266.8,187.3 267.3,188.2 267.7,189.1 269.6,189.5 270.4,191.0 271.3,191.8 272.1,192.5 273.0,196.1 273.8,196.7 274.7,200.4 276.0,198.1 276.6,199.7 277.3,197.2 277.9,196.4 278.9,195.0 279.8,193.7 280.0,194.0 280.2,193.3 280.4,197.6 280.7,193.6 281.0,192.1 281.1,191.8 281.2,189.6 281.4,187.5 281.5,187.8 281.6,184.8 281.7,182.1 281.8,180.2 281.9,181.0 282.0,178.0 282.1,177.6 282.2,174.4 282.3,172.3 282.4,172.0 283.0,171.5 283.7,167.5 284.3,168.2 285.0,170.4 285.7,171.7 287.1,173.1 287.9,168.6 288.6,169.5 289.6,172.1 290.5,170.7 291.1,173.1 291.8,174.7 292.4,177.2 293.8,177.8 294.1,176.3 294.5,175.7 294.8,171.0 295.1,169.3 295.4,167.6 295.7,165.7 296.2,163.6 296.6,165.1 297.1,162.7 297.6,161.4 298.1,164.6 298.6,165.5 299.2,167.2 299.9,169.1 300.5,172.0 301.9,172.2 302.6,169.9 303.3,167.8 304.2,169.8 305.2,170.5 306.1,173.8 307.1,176.0 307.9,176.2 308.6,176.5 309.3,175.2 310.0,174.3 311.4,176.1 313.3,178.7 313.7,175.6 314.1,175.7 314.4,173.5 314.8,171.3 315.2,169.5 316.7,168.6 317.4,170.8 318.1,171.1 318.8,174.0 319.5,175.1 320.5,176.6 320.7,176.2 320.9,175.2 321.2,171.3 321.4,171.1 321.9,169.7 322.4,170.0 322.9,168.8 323.1,165.1 323.3,165.6 323.4,163.6 323.6,160.1 323.8,159.4 323.9,156.4 324.1,157.4 324.2,155.2 324.3,154.4 324.5,152.5 324.7,150.5 324.9,149.3 325.1,147.1 325.2,143.8 325.4,144.2 325.6,140.4 325.8,139.4 326.1,140.4 326.4,136.1 326.8,134.8 327.1,133.3 327.4,134.8 327.7,130.7 328.0,128.5 328.2,129.9 328.5,125.6 328.8,126.7 329.1,124.4 329.3,123.4 329.6,122.2 330.1,119.1 330.6,118.1 331.0,113.5 331.5,114.5 332.8,114.8 333.5,117.2 334.1,116.4 336.0,120.1 337.2,122.1 338.5,120.0 339.4,122.6 340.4,125.1 340.8,127.6 341.3,126.9 341.7,128.2 343.6,128.4 345.5,127.5 346.3,126.4 347.1,123.4 348.0,124.7 348.8,126.2 349.9,127.4 351.0,129.0 352.4,126.4 353.7,126.6 354.8,127.0 355.9,123.5 357.0,125.8 358.1,124.7 358.9,128.1 359.7,129.8 360.3,131.1 360.8,132.1 361.4,133.6 363.0,134.8 363.9,137.7 364.7,136.8 365.2,138.2 365.8,142.3 366.3,144.6 366.4,144.9 366.5,146.5 366.6,149.3 366.4,149.8 367.4,150.4 369.1,149.6 370.2,152.1 371.3,152.2 372.3,155.1" fill="none" stroke="#00ff00" stroke-width="1.2" stroke-linejoin="round" shape-rendering="crispEdges"/>
<polyline points="66.8,198.6 68.3,193.6 69.0,196.7 70.9,197.4 72.8,201.2 74.7,201.8 77.9,202.8 80.4,203.3 82.3,205.9 85.5,202.5 88.0,204.4 91.2,206.9 93.1,210.1 95.7,214.5 98.2,211.3 101.4,217.1 103.9,212.6 107.1,211.3 109.6,208.8 112.2,206.9 114.1,205.6 116.6,204.4 118.5,206.3 121.7,202.5 124.2,201.2 128.0,197.4 130.6,199.3 133.7,208.2 135.7,207.5 138.2,203.1 142.0,199.3 142.5,193.9 144.4,197.1 147.0,191.4 150.2,189.9 152.7,190.1 155.2,192.0 157.8,197.8 159.7,193.3 162.2,193.9 165.4,198.4 167.9,194.6 170.5,192.7 173.0,192.0 175.6,195.8 178.1,197.1 180.6,193.3 183.2,189.5 185.1,183.8 187.0,179.3 188.9,172.4 190.8,173.6 193.3,168.5 195.9,163.5 198.4,163.5 202.2,159.7 206.0,160.3 208.6,161.6 211.1,165.4 214.9,163.5 218.2,160.7 220.7,163.9 223.9,167.7 226.4,174.0 227.7,183.5 229.0,196.2 230.9,200.0 233.4,198.7 236.0,194.9 238.5,193.6 240.4,191.1 242.3,186.6 244.8,183.5 247.4,180.9 249.9,178.4 251.8,179.7 253.1,178.4 255.0,183.5 257.5,182.8 260.1,185.4 262.6,187.3 265.2,186.0 266.4,184.1 267.7,188.5 269.6,189.8 272.1,193.6 274.7,198.7 276.0,199.3 277.9,194.3 279.8,191.7 280.4,196.2 281.0,192.4 281.7,182.2 282.4,171.4 284.3,166.6 285.7,170.0 287.1,171.4 288.6,168.5 290.5,171.9 292.4,176.6 293.8,177.6 294.8,172.4 295.7,166.6 297.1,160.9 298.6,165.7 300.5,170.9 301.9,171.4 303.3,168.5 305.2,171.4 307.1,174.7 308.6,177.6 310.0,174.3 311.4,175.2 313.3,177.1 315.2,169.5 316.7,168.1 318.1,170.9 319.5,174.7 320.5,177.1 321.4,170.9 322.9,166.6 323.8,159.0 324.3,152.4 325.8,140.3 327.7,131.4 329.6,120.0 331.5,113.0 332.8,114.3 334.1,117.4 336.0,118.7 338.5,121.2 340.4,124.4 341.7,128.9 343.6,128.9 345.5,126.6 347.1,123.3 348.8,126.1 351.0,128.8 353.7,126.1 355.9,123.3 358.1,125.5 359.7,128.3 361.4,133.2 363.0,133.8 364.7,137.6 366.3,142.5 366.6,148.0 366.4,150.5 367.4,150.8 369.1,150.2 371.3,152.4 372.3,154.6" fill="none" stroke="#00ff00" stroke-width="2.0" stroke-linejoin="round" stroke-linecap="butt" shape-rendering="crispEdges"/><polyline points="66.8,199.6 68.3,194.6 69.0,197.7 70.9,198.4 72.8,202.2 74.7,202.8 77.9,203.8 80.4,204.3 82.3,206.9 85.5,203.5 88.0,205.4 91.2,207.9 93.1,211.1 95.7,215.5 98.2,212.3 101.4,218.1 103.9,213.6 107.1,212.3 109.6,209.8 112.2,207.9 114.1,206.6 116.6,205.4 118.5,207.3 121.7,203.5 124.2,202.2 128.0,198.4 130.6,200.3 133.7,209.2 135.7,208.5 138.2,204.1 142.0,200.3 142.5,194.9 144.4,198.1 147.0,192.4 150.2,190.9 152.7,191.1 155.2,193.0 157.8,198.8 159.7,194.3 162.2,194.9 165.4,199.4 167.9,195.6 170.5,193.7 173.0,193.0 175.6,196.8 178.1,198.1 180.6,194.3 183.2,190.5 185.1,184.8 187.0,180.3 188.9,173.4 190.8,174.6 193.3,169.5 195.9,164.5 198.4,164.5 202.2,160.7 206.0,161.3 208.6,162.6 211.1,166.4 214.9,164.5 218.2,161.7 220.7,164.9 223.9,168.7 226.4,175.0 227.7,184.5 229.0,197.2 230.9,201.0 233.4,199.7 236.0,195.9 238.5,194.6 240.4,192.1 242.3,187.6 244.8,184.5 247.4,181.9 249.9,179.4 251.8,180.7 253.1,179.4 255.0,184.5 257.5,183.8 260.1,186.4 262.6,188.3 265.2,187.0 266.4,185.1 267.7,189.5 269.6,190.8 272.1,194.6 274.7,199.7 276.0,200.3 277.9,195.3 279.8,192.7 280.4,197.2 281.0,193.4 281.7,183.2 282.4,172.4 284.3,167.6 285.7,171.0 287.1,172.4 288.6,169.5 290.5,172.9 292.4,177.6 293.8,178.6 294.8,173.4 295.7,167.6 297.1,161.9 298.6,166.7 300.5,171.9 301.9,172.4 303.3,169.5 305.2,172.4 307.1,175.7 308.6,178.6 310.0,175.3 311.4,176.2 313.3,178.1 315.2,170.5 316.7,169.1 318.1,171.9 319.5,175.7 320.5,178.1 321.4,171.9 322.9,167.6 323.8,160.0 324.3,153.4 325.8,141.3 327.7,132.4 329.6,121.0 331.5,114.0 332.8,115.3 334.1,118.4 336.0,119.7 338.5,122.2 340.4,125.4 341.7,129.9 343.6,129.9 345.5,127.6 347.1,124.3 348.8,127.1 351.0,129.8 353.7,127.1 355.9,124.3 358.1,126.5 359.7,129.3 361.4,134.2 363.0,134.8 364.7,138.6 366.3,143.5 366.6,149.0 366.4,151.5 367.4,151.8 369.1,151.2 371.3,153.4 372.3,155.6" fill="none" stroke="#00ff00" stroke-width="2.0" stroke-linejoin="round" stroke-linecap="butt" shape-rendering="crispEdges"/>
<rect x="365.7" y="148.0" width="1.4" height="13.5" fill="#00ff00"/>
<rect x="435.5" y="27.5" width="183" height="39" fill="#000" stroke="#444444" stroke-width="1"/>
<rect x="442" y="32" width="6" height="2" fill="#00ccff"/>
<rect x="442" y="45" width="6" height="2" fill="#ff0000"/>
<rect x="442" y="59" width="6" height="2" fill="#00ff00"/>
<text x="451" y="38" fill="#00ccff" style="font-family:'DejaVu Sans Mono','Liberation Mono',monospace;font-weight:bold;font-size:11px" textLength="156" lengthAdjust="spacingAndGlyphs">Nov 06 NY close 17.200</text>
<text x="451" y="50" fill="#ff0000" style="font-family:'DejaVu Sans Mono','Liberation Mono',monospace;font-weight:bold;font-size:11px" textLength="156" lengthAdjust="spacingAndGlyphs">Nov 07 NY close 16.910</text>
<text x="451" y="63" fill="#00ff00" style="font-family:'DejaVu Sans Mono','Liberation Mono',monospace;font-weight:bold;font-size:11px" textLength="128" lengthAdjust="spacingAndGlyphs">Nov 08 Last 17.100</text>
<text x="447" y="24" fill="#d0d0d0" style="font-family:'DejaVu Sans Mono','Liberation Mono',monospace;font-weight:bold;font-size:11px" textLength="163" lengthAdjust="spacingAndGlyphs">November 08, 2017 13:16</text>
<text x="20" y="17" fill="#d6d6d6" style="font-family:'DejaVu Sans Mono','Liberation Mono',monospace;font-weight:bold;font-size:11px" textLength="44" lengthAdjust="spacingAndGlyphs">USD/oz</text>
<text x="19" y="31" fill="#d6d6d6" style="font-family:'DejaVu Sans Mono','Liberation Mono',monospace;font-weight:bold;font-size:11px" textLength="44" lengthAdjust="spacingAndGlyphs">17.400</text>
<text x="19" y="74" fill="#d6d6d6" style="font-family:'DejaVu Sans Mono','Liberation Mono',monospace;font-weight:bold;font-size:11px" textLength="44" lengthAdjust="spacingAndGlyphs">17.300</text>
<text x="19" y="117" fill="#d6d6d6" style="font-family:'DejaVu Sans Mono','Liberation Mono',monospace;font-weight:bold;font-size:11px" textLength="44" lengthAdjust="spacingAndGlyphs">17.200</text>
<text x="19" y="160" fill="#d6d6d6" style="font-family:'DejaVu Sans Mono','Liberation Mono',monospace;font-weight:bold;font-size:11px" textLength="44" lengthAdjust="spacingAndGlyphs">17.100</text>
<text x="19" y="204" fill="#d6d6d6" style="font-family:'DejaVu Sans Mono','Liberation Mono',monospace;font-weight:bold;font-size:11px" textLength="44" lengthAdjust="spacingAndGlyphs">17.000</text>
<text x="19" y="247" fill="#d6d6d6" style="font-family:'DejaVu Sans Mono','Liberation Mono',monospace;font-weight:bold;font-size:11px" textLength="44" lengthAdjust="spacingAndGlyphs">16.900</text>
<text x="19" y="290" fill="#d6d6d6" style="font-family:'DejaVu Sans Mono','Liberation Mono',monospace;font-weight:bold;font-size:11px" textLength="44" lengthAdjust="spacingAndGlyphs">16.800</text>
<text x="19" y="333" fill="#d6d6d6" style="font-family:'DejaVu Sans Mono','Liberation Mono',monospace;font-weight:bold;font-size:11px" textLength="44" lengthAdjust="spacingAndGlyphs">16.700</text>
<text x="19" y="376" fill="#d6d6d6" style="font-family:'DejaVu Sans Mono','Liberation Mono',monospace;font-weight:bold;font-size:11px" textLength="44" lengthAdjust="spacingAndGlyphs">16.600</text>
<text x="47" y="387" fill="#d6d6d6" style="font-family:'DejaVu Sans Mono','Liberation Mono',monospace;font-weight:bold;font-size:11px" textLength="37" lengthAdjust="spacingAndGlyphs">00:00</text>
<text x="47" y="401" fill="#545454" style="font-family:'DejaVu Sans Mono','Liberation Mono',monospace;font-weight:bold;font-size:11px" textLength="37" lengthAdjust="spacingAndGlyphs">05:00</text>
<text x="139" y="387" fill="#d6d6d6" style="font-family:'DejaVu Sans Mono','Liberation Mono',monospace;font-weight:bold;font-size:11px" textLength="37" lengthAdjust="spacingAndGlyphs">04:00</text>
<text x="139" y="401" fill="#545454" style="font-family:'DejaVu Sans Mono','Liberation Mono',monospace;font-weight:bold;font-size:11px" textLength="37" lengthAdjust="spacingAndGlyphs">09:00</text>
<text x="232" y="387" fill="#d6d6d6" style="font-family:'DejaVu Sans Mono','Liberation Mono',monospace;font-weight:bold;font-size:11px" textLength="37" lengthAdjust="spacingAndGlyphs">08:00</text>
<text x="232" y="401" fill="#545454" style="font-family:'DejaVu Sans Mono','Liberation Mono',monospace;font-weight:bold;font-size:11px" textLength="37" lengthAdjust="spacingAndGlyphs">13:00</text>
<text x="324" y="387" fill="#d6d6d6" style="font-family:'DejaVu Sans Mono','Liberation Mono',monospace;font-weight:bold;font-size:11px" textLength="37" lengthAdjust="spacingAndGlyphs">12:00</text>
<text x="324" y="401" fill="#545454" style="font-family:'DejaVu Sans Mono','Liberation Mono',monospace;font-weight:bold;font-size:11px" textLength="37" lengthAdjust="spacingAndGlyphs">17:00</text>
<text x="416" y="387" fill="#d6d6d6" style="font-family:'DejaVu Sans Mono','Liberation Mono',monospace;font-weight:bold;font-size:11px" textLength="37" lengthAdjust="spacingAndGlyphs">16:00</text>
<text x="416" y="401" fill="#545454" style="font-family:'DejaVu Sans Mono','Liberation Mono',monospace;font-weight:bold;font-size:11px" textLength="37" lengthAdjust="spacingAndGlyphs">21:00</text>
<text x="508" y="387" fill="#d6d6d6" style="font-family:'DejaVu Sans Mono','Liberation Mono',monospace;font-weight:bold;font-size:11px" textLength="37" lengthAdjust="spacingAndGlyphs">20:00</text>
<text x="508" y="401" fill="#545454" style="font-family:'DejaVu Sans Mono','Liberation Mono',monospace;font-weight:bold;font-size:11px" textLength="37" lengthAdjust="spacingAndGlyphs">01:00</text>
<text x="590" y="387" fill="#d6d6d6" style="font-family:'DejaVu Sans Mono','Liberation Mono',monospace;font-weight:bold;font-size:11px" textLength="37" lengthAdjust="spacingAndGlyphs">23:59</text>
<text x="590" y="401" fill="#545454" style="font-family:'DejaVu Sans Mono','Liberation Mono',monospace;font-weight:bold;font-size:11px" textLength="37" lengthAdjust="spacingAndGlyphs">04:59</text>
<text x="3" y="389" fill="#d6d6d6" style="font-family:'DejaVu Sans Mono','Liberation Mono',monospace;font-size:11px" textLength="43" lengthAdjust="spacingAndGlyphs">NY Time</text>
<text x="11" y="401" fill="#d6d6d6" style="font-family:'DejaVu Sans Mono','Liberation Mono',monospace;font-size:11px" textLength="19" lengthAdjust="spacingAndGlyphs">GMT</text>
<text x="185.3" y="22" fill="#5a7cf5" style="font-family:'Liberation Sans',Arial,sans-serif;font-weight:bold;font-size:20px" textLength="218.5" lengthAdjust="spacingAndGlyphs">24 Hour Spot Silver (Bid)</text>
<text x="68" y="56" fill="#5a7cf5" style="font-family:'Liberation Sans',Arial,sans-serif;font-weight:bold;font-size:19px" textLength="133.5" lengthAdjust="spacingAndGlyphs">www.kitco.com</text>
</svg></body></html>
